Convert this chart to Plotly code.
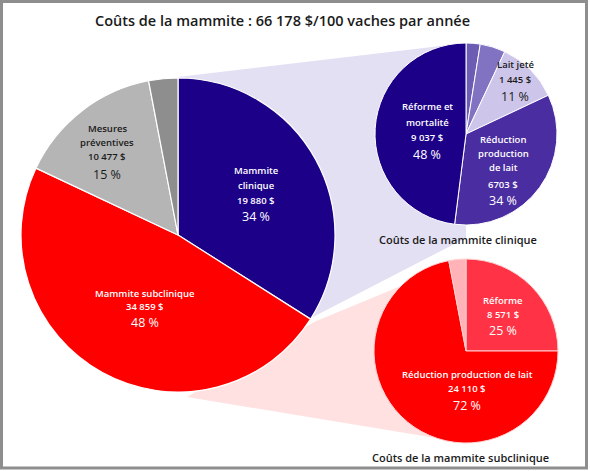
import plotly.graph_objects as go

W, H = 590, 471

# ---------------- data ----------------
title_text = "Coûts de la mammite : 66 178 $/100 vaches par année"

main_names = ["Mammite clinique", "Mammite subclinique", "Mesures préventives", "Autres"]
main_pct = [34, 48, 15, 3]
main_cost = ["19 880 $", "34 859 $", "10 477 $", ""]

clin_names = ["Autre 1", "Autre 2", "Lait jeté", "Réduction production de lait", "Réforme et mortalité"]
clin_pct = [2.5, 4.5, 11, 34, 48]
clin_cost = ["", "", "1 445 $", "6703 $", "9 037 $"]
clin_title = "Coûts de la mammite clinique"

sub_names = ["Réforme", "Réduction production de lait", "Autre"]
sub_pct = [25, 72, 3]
sub_cost = ["8 571 $", "24 110 $", ""]
sub_title = "Coûts de la mammite subclinique"

# ---------------- styles ----------------
main_colors = ["#1c0088", "#ff0000", "#b5b5b5", "#8e8e8e"]
clin_colors = ["#6d5cb4", "#8272c2", "#cdc6ea", "#4a2da0", "#1c0088"]
sub_colors = ["#ff3345", "#ff0000", "#ffb3b8"]
FONT = "Open Sans, Lato, sans-serif"


def px(x):
    return x / W


def py(y):
    return 1 - y / H


def dom(cx, cy, r):
    return dict(x=[px(cx - r), px(cx + r)], y=[py(cy + r), py(cy - r)])


fig = go.Figure()
common = dict(sort=False, direction="clockwise", rotation=0, textinfo="none",
              hoverinfo="label+percent", showlegend=False)
fig.add_trace(go.Pie(labels=main_names, values=main_pct, domain=dom(178, 235, 157),
                     marker=dict(colors=main_colors, line=dict(color="white", width=1.2)), **common))
fig.add_trace(go.Pie(labels=clin_names, values=clin_pct, domain=dom(466, 134, 91),
                     marker=dict(colors=clin_colors, line=dict(color="white", width=1)), **common))
fig.add_trace(go.Pie(labels=sub_names, values=sub_pct, domain=dom(466, 351, 92),
                     marker=dict(colors=sub_colors, line=dict(color="#ffd0d0", width=1)), **common))


def path(pts):
    s = "M " + " L ".join(f"{px(x):.5f},{py(y):.5f}" for x, y in pts) + " Z"
    return s


shapes = [
    dict(type="path", xref="paper", yref="paper", layer="below",
         path=path([(178, 77), (466, 43), (466, 238), (311, 318)]),
         fillcolor="#e3e0f3", line=dict(width=0)),
    dict(type="path", xref="paper", yref="paper", layer="below",
         path=path([(314, 322), (466, 259), (466, 443), (187, 397)]),
         fillcolor="#ffe1e1", line=dict(width=0)),
    dict(type="rect", xref="paper", yref="paper",
         x0=px(1.5), x1=px(586.5), y0=py(468), y1=py(1.5),
         line=dict(color="#8e8e8e", width=3)),
]

annotations = []


def txt(x, y, s, size=10, color="white", weight=600):
    annotations.append(dict(x=px(x), y=py(y), xref="paper", yref="paper", text=s,
                            showarrow=False, xanchor="center", yanchor="middle",
                            font=dict(family=FONT, size=size, color=color, weight=weight)))


def pct(v):
    return f"{v:g} %"


# title
txt(282, 21, title_text, size=14.5, color="#1a1a1a", weight=600)

# main pie labels
txt(256, 171, "Mammite", 9.5)
txt(256, 185, "clinique", 9.5)
txt(256, 200, main_cost[0], 9.5)
txt(256, 216, pct(main_pct[0]), 12.5, weight=400)

txt(145, 293, main_names[1], 9.5)
txt(145, 306, main_cost[1], 9.5)
txt(145, 322, pct(main_pct[1]), 12.5, weight=400)

txt(107, 129, "Mesures", 9.5, "#1a1a1a")
txt(107, 143, "préventives", 9.5, "#1a1a1a")
txt(107, 157, main_cost[2], 9.5, "#1a1a1a")
txt(107, 175, pct(main_pct[2]), 12.5, "#1a1a1a", 400)

# clinical pie labels
txt(427, 107, "Réforme et", 9.5)
txt(427, 123, "mortalité", 9.5)
txt(427, 138, clin_cost[4], 9.5)
txt(427, 155, pct(clin_pct[4]), 12.5, weight=400)

txt(515, 65, clin_names[2], 9.5, "#1a1a1a")
txt(515, 80, clin_cost[2], 9.5, "#1a1a1a")
txt(515, 97, pct(clin_pct[2]), 12.5, "#1a1a1a", 400)

txt(503, 140, "Réduction", 9.5)
txt(503, 154, "production", 9.5)
txt(503, 168, "de lait", 9.5)
txt(503, 184, clin_cost[3], 9.5)
txt(503, 200, pct(clin_pct[3]), 12.5, weight=400)

txt(458, 239, clin_title, 11, "#1a1a1a", 600)

# subclinical pie labels
txt(503, 300, sub_names[0], 9.5)
txt(503, 314, sub_cost[0], 9.5)
txt(503, 330, pct(sub_pct[0]), 12.5, weight=400)

txt(467, 374, "Réduction production de lait", 9.5)
txt(467, 388, sub_cost[1], 9.5)
txt(467, 405, pct(sub_pct[1]), 12.5, weight=400)

txt(460, 457, sub_title, 11, "#1a1a1a", 600)

fig.update_layout(width=W, height=H, margin=dict(l=0, r=0, t=0, b=0),
                  paper_bgcolor="white", plot_bgcolor="white",
                  shapes=shapes, annotations=annotations)
fig.write_html("out.html")
